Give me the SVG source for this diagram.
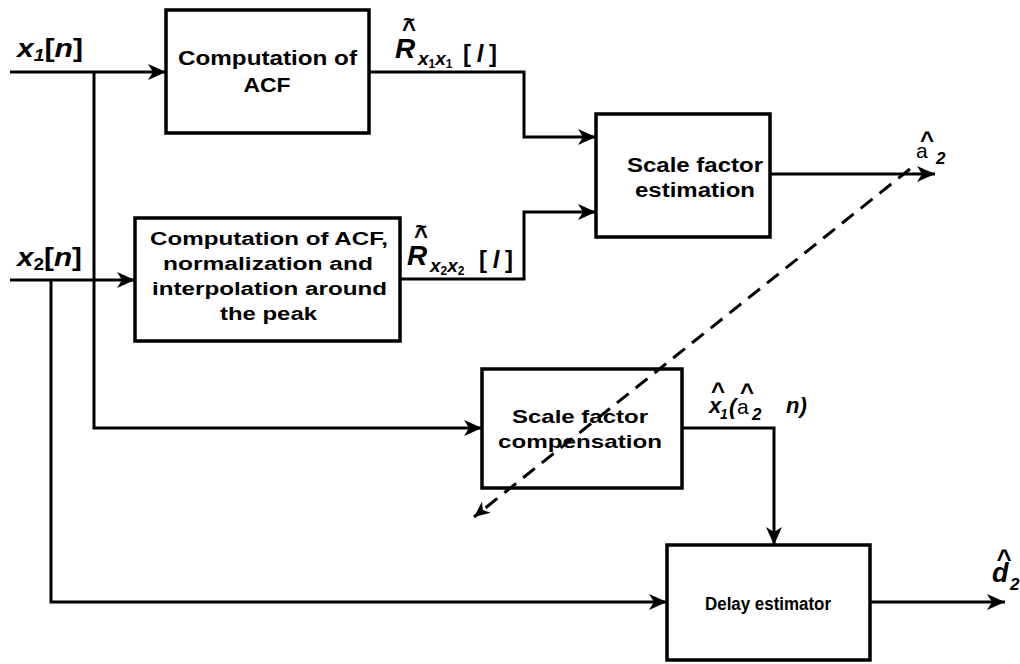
<svg xmlns="http://www.w3.org/2000/svg" width="1020" height="664" viewBox="0 0 1020 664">
<style>
.box{fill:#fff;stroke:#000;stroke-width:3.5}
.ln{fill:none;stroke:#000;stroke-width:3}
.dash{fill:none;stroke:#000;stroke-width:3;stroke-dasharray:15 9}
.t{font-family:"Liberation Sans",Arial,sans-serif;font-weight:bold;fill:#000;text-anchor:middle}
.lb{font-family:"Liberation Sans",Arial,sans-serif;font-weight:bold;font-style:italic;fill:#000}
.lt{font-family:"Liberation Sans",Arial,sans-serif;font-weight:normal;fill:#000}
.hat{font-family:"Liberation Sans",Arial,sans-serif;font-weight:bold;fill:#000;text-anchor:middle}
</style>
<defs>
<marker id="ah" viewBox="0 0 18 16" markerWidth="18" markerHeight="16" refX="18" refY="8" orient="auto" markerUnits="userSpaceOnUse">
<path d="M0,0 L18,8 L0,16 L5,8 Z" fill="#000"/>
</marker>
<marker id="ah2" viewBox="0 0 18 16" markerWidth="16" markerHeight="14" refX="18" refY="8" orient="auto" markerUnits="userSpaceOnUse">
<path d="M0,0 L18,8 L0,16 L5,8 Z" fill="#000"/>
</marker>
</defs>
<g id="acf1">
<rect class="box" x="166" y="10" width="203" height="123"/>
<text class="t" x="267.5" y="65" font-size="20" textLength="179" lengthAdjust="spacingAndGlyphs">Computation of</text>
<text class="t" x="267" y="92" font-size="20" textLength="47" lengthAdjust="spacingAndGlyphs">ACF</text>
</g>
<g id="acf2">
<rect class="box" x="135" y="218" width="265" height="123"/>
<text class="t" x="269" y="245" font-size="18" textLength="238" lengthAdjust="spacingAndGlyphs">Computation of ACF,</text>
<text class="t" x="268" y="270" font-size="18" textLength="210" lengthAdjust="spacingAndGlyphs">normalization and</text>
<text class="t" x="269.5" y="295" font-size="18" textLength="235" lengthAdjust="spacingAndGlyphs">interpolation around</text>
<text class="t" x="268.5" y="320" font-size="18" textLength="97" lengthAdjust="spacingAndGlyphs">the peak</text>
</g>
<g id="sfe">
<rect class="box" x="596" y="114" width="174" height="123"/>
<text class="t" x="695" y="172" font-size="20" textLength="136" lengthAdjust="spacingAndGlyphs">Scale factor</text>
<text class="t" x="695" y="197" font-size="20" textLength="120" lengthAdjust="spacingAndGlyphs">estimation</text>
</g>
<g id="sfc">
<rect class="box" x="482" y="369" width="200" height="119"/>
<text class="t" x="580" y="423" font-size="19" textLength="136" lengthAdjust="spacingAndGlyphs">Scale factor</text>
<text class="t" x="580" y="448" font-size="19" textLength="164" lengthAdjust="spacingAndGlyphs">compensation</text>
</g>
<g id="delay">
<rect class="box" x="667" y="545" width="203" height="115"/>
<text class="t" x="768" y="610" font-size="18" textLength="126" lengthAdjust="spacingAndGlyphs">Delay estimator</text>
</g>
<g id="connectors">
<path class="ln" d="M10,72 H166" marker-end="url(#ah)"/>
<path class="ln" d="M94,72 V428 H482" marker-end="url(#ah)"/>
<path class="ln" d="M369,72 H524 V137 H596" marker-end="url(#ah)"/>
<path class="ln" d="M10,280 H135" marker-end="url(#ah)"/>
<path class="ln" d="M51,280 V602 H667" marker-end="url(#ah)"/>
<path class="ln" d="M400,279 H524 V212 H596" marker-end="url(#ah)"/>
<path class="ln" d="M770,174 H935" marker-end="url(#ah)"/>
<path class="dash" d="M910,169 L474,517" marker-end="url(#ah2)"/>
<path class="ln" d="M682,428 H774 V545" marker-end="url(#ah)"/>
<path class="ln" d="M870,602 H1005" marker-end="url(#ah)"/>
</g>
<g id="labels">
<text class="lb" x="17" y="57" font-size="25" textLength="66" lengthAdjust="spacingAndGlyphs">x<tspan font-size="16" dy="4">1</tspan><tspan dy="-4" font-style="normal">[</tspan>n<tspan font-style="normal">]</tspan></text>
<text class="lb" x="17" y="266" font-size="25" textLength="65" lengthAdjust="spacingAndGlyphs">x<tspan font-size="16" dy="4" font-style="normal">2</tspan><tspan dy="-4" font-style="normal">[</tspan>n<tspan font-style="normal">]</tspan></text>
<text class="lb" x="395" y="58" font-size="28">R</text>
<text class="hat" x="409" y="37" font-size="24">^</text>
<text class="hat" x="409" y="26" font-size="20">~</text>
<text class="lb" x="418" y="65" font-size="19">x<tspan font-size="12" dy="3" font-style="normal">1</tspan><tspan dy="-3">x</tspan><tspan font-size="12" dy="3" font-style="normal">1</tspan></text>
<text class="lb" x="463" y="62" font-size="24" textLength="34" lengthAdjust="spacing"><tspan font-style="normal">[</tspan>l<tspan font-style="normal">]</tspan></text>
<text class="lb" x="407" y="265" font-size="28">R</text>
<text class="hat" x="421" y="244" font-size="24">^</text>
<text class="hat" x="421" y="233" font-size="20">~</text>
<text class="lb" x="430" y="272" font-size="19">x<tspan font-size="12" dy="3" font-style="normal">2</tspan><tspan dy="-3">x</tspan><tspan font-size="12" dy="3" font-style="normal">2</tspan></text>
<text class="lb" x="479" y="268" font-size="24" textLength="34" lengthAdjust="spacing"><tspan font-style="normal">[</tspan>l<tspan font-style="normal">]</tspan></text>
<text class="lt" x="916" y="158" font-size="21">a</text>
<text class="hat" x="927" y="148" font-size="24">^</text>
<text class="lb" x="936" y="164" font-size="17" font-style="normal">2</text>
<text class="lb" x="709" y="413" font-size="22">x</text>
<text class="hat" x="718" y="399" font-size="24">^</text>
<text class="lb" x="720" y="419" font-size="14">1</text>
<text class="lb" x="729" y="414" font-size="22">(</text>
<text class="lt" x="737" y="414" font-size="21">a</text>
<text class="hat" x="747" y="400" font-size="24">^</text>
<text class="lb" x="752" y="420" font-size="17" font-style="normal">2</text>
<text class="lb" x="786" y="413" font-size="22">n)</text>
<text class="lb" x="992" y="582" font-size="27">d</text>
<text class="hat" x="1004" y="568" font-size="26">^</text>
<text class="lb" x="1010" y="590" font-size="17" font-style="normal">2</text>
</g>
</svg>
